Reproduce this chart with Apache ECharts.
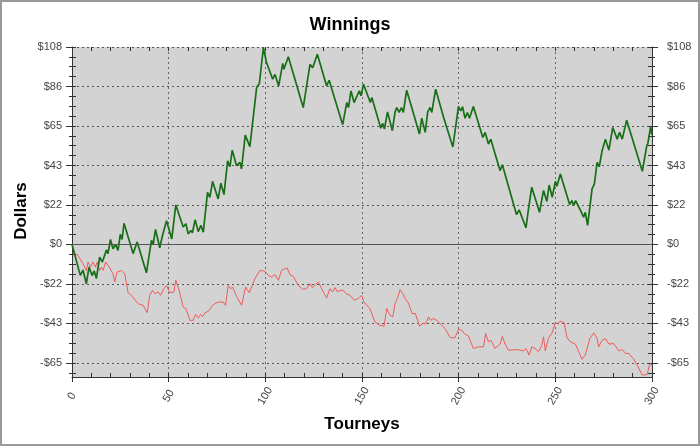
<!DOCTYPE html>
<html>
<head>
<meta charset="utf-8">
<script src="https://cdn.jsdelivr.net/npm/echarts@6/dist/echarts.min.js"></script>
<style>
  html, body { margin: 0; padding: 0; background: #fff; }
  #chart { width: 700px; height: 446px; }
</style>
</head>
<body>
<div id="chart"></div>
<script>
  // [tourney, dollars]
  const winnings = [[0,0],[4.3,-16.9],[5.7,-14],[7.4,-21.5],[8.8,-12.4],[10.4,-17],[11.5,-14.5],[12.6,-18.7],[14.3,-7],[15.7,-9.6],[17.8,-3],[18.6,-5],[19.9,2.7],[21.2,-2.4],[22.5,0],[23.8,-3.3],[25,5.5],[25.9,2.7],[26.9,11.6],[31.6,-5],[33.7,1.3],[38.5,-15.5],[41.1,2.2],[42,0],[43.2,8.2],[45.4,-1.8],[46.8,4.9],[47.7,4],[48.9,13],[51.6,3],[53.7,21.6],[57.5,9.5],[58.9,11.3],[60.1,5.8],[61.5,7.6],[62.3,6.4],[63.7,13.6],[65.3,7],[66.7,10.4],[67.9,6.7],[70.1,28.5],[71.3,25.8],[72.7,34.5],[75.6,24.9],[77,33.5],[78.6,27.3],[80.5,45.8],[81.7,42.5],[82.9,51.6],[85.1,43.1],[86.9,44.9],[87.7,41.3],[89.6,59.8],[92,53.5],[95.5,85.8],[96.9,88],[99,107.6],[100.6,99.5],[103.8,90.4],[105,93],[106.9,86.7],[109,99],[109.6,95.8],[111.9,102.7],[119.6,74.9],[123.1,98.5],[124.5,96.7],[126.9,104],[131.7,86.7],[133,89.8],[140,65.5],[142.1,77.6],[143,74.9],[144.3,84],[145.9,77.6],[148.6,84],[149.5,81.3],[150.8,87.6],[154.3,77.6],[155.1,80.4],[159.7,63.6],[160.7,66.2],[161.6,63.1],[163.2,72.5],[165.7,62.2],[167.1,72.5],[168,74.9],[169.2,72.2],[170.4,74.9],[171.4,72.2],[173.1,84.4],[177.5,68.5],[179.7,60.4],[180.9,69.1],[182.7,61.3],[184,72.5],[185.2,74.9],[186.1,72.2],[188.1,84.9],[192.1,69.8],[197,53.3],[199.9,75.5],[201,73],[202,75.3],[203.3,69],[204.5,72.2],[205.6,69],[207.6,75.5],[212.5,58.5],[213.7,61.3],[215.4,54.9],[216.6,57.6],[221.4,40.4],[222.6,43.6],[229.9,16.4],[231.3,18.9],[234.8,9.1],[236,18.5],[237.8,31.3],[241.8,17.6],[243.9,29.5],[245.6,23.5],[246.8,32.5],[248.4,25.8],[250,34.5],[250.8,31.8],[252.6,38.5],[257.4,21.8],[258.6,24],[259.5,21.3],[260.5,24],[263.7,17.1],[264.6,14.9],[265.5,17.6],[266.7,10.4],[269,30.4],[270.2,33.1],[271.6,44.9],[272.7,42.5],[274.2,51.3],[275.9,57.6],[277.7,51.6],[279.7,64],[282,57.6],[283.2,61.3],[284.6,57.6],[286.9,68],[295,40],[297.2,53.5],[297.9,55.5],[299.3,64.4],[300,60]];

  const redLine = [[0,0],[1.4,-5],[3.1,-6],[5.7,-10.5],[7.4,-14.2],[8.3,-9.6],[9.5,-12.4],[10.9,-9.6],[12.1,-12.4],[13,-9.6],[14.3,-14.2],[15.2,-12.4],[16.1,-14.2],[17.4,-9.6],[19,-12],[21.2,-16],[22.1,-20.5],[23.3,-15.1],[24.3,-16],[25.6,-14.2],[27.3,-16],[29,-26.4],[30.7,-27.8],[34.2,-32.4],[36.8,-33.3],[38.9,-37.3],[40.2,-27.8],[41.6,-25.1],[42.8,-26.9],[44.6,-26],[45.8,-27.8],[47.5,-24.2],[48.9,-22.4],[50.6,-26.4],[52.7,-26],[53.7,-19.6],[55.4,-25.1],[57.5,-34.2],[58.9,-35.1],[61,-41.5],[62.7,-41.5],[63.9,-38.2],[65.3,-40.2],[66.5,-38.2],[67.5,-39.6],[68.7,-37.5],[70.5,-36.5],[73.1,-32.9],[75.6,-31.5],[78.2,-31.5],[79.4,-33.3],[80.8,-22.4],[82,-24.2],[83.1,-23.3],[85.1,-28.4],[87.7,-33.3],[89.8,-23.3],[90.7,-24.2],[91.7,-26.4],[92.9,-23.3],[94.6,-18.7],[97.2,-14.2],[99.8,-14.7],[101.5,-16.9],[103.2,-17.8],[105,-16.5],[106.8,-19.6],[108.4,-14.2],[110.1,-13.3],[111.3,-12.9],[112.7,-16.5],[114.4,-17.3],[117,-22.4],[119.3,-24.5],[121.3,-24.2],[123.1,-21.5],[124.4,-23.6],[125.6,-22.4],[127.4,-20.5],[129.1,-24.2],[131.7,-29.3],[133.4,-24.2],[134.8,-26],[136.1,-23.6],[137.3,-26],[138.6,-25.1],[140.3,-25.1],[141.7,-26.9],[143.8,-27.8],[146,-30.5],[148.1,-29.6],[149.8,-27.8],[151,-31.5],[154.1,-35.1],[156.7,-42.4],[159.3,-44.2],[161.4,-44.7],[162.8,-35.1],[164.5,-38.7],[165.9,-39.6],[167.1,-32.4],[168.3,-29.6],[169.7,-24.7],[171.1,-26.9],[172.3,-29.6],[174,-32],[175.9,-37.8],[177.6,-37.8],[179.8,-44.7],[181.4,-43.3],[183.1,-43.3],[184.4,-39.6],[185.5,-41.5],[186.9,-40.5],[188.7,-41.5],[191.2,-44.2],[193,-46],[195.6,-51],[198.1,-51],[199.9,-46.5],[201.6,-46.9],[202.8,-48.7],[205,-50],[207.6,-56.9],[210.2,-56],[212.8,-56],[214,-48.7],[215.4,-53.3],[216.7,-52.4],[218.8,-56.9],[221.4,-54.5],[222.6,-50.2],[224,-54.5],[225.7,-57.8],[230,-57.5],[233.5,-58.2],[234.8,-56.9],[236.4,-60.5],[237.8,-56],[239.5,-56.9],[241.3,-58.7],[243,-55.1],[243.9,-50.5],[244.8,-58.2],[246.5,-51],[248.2,-48.7],[250,-42.9],[251.1,-43.3],[252.6,-42],[254.6,-42.9],[256,-51],[257.8,-53.3],[260.4,-54.5],[262.1,-58.7],[263.8,-62.9],[265.5,-60.5],[267.8,-51.5],[269.9,-48.4],[271.6,-51.5],[272.4,-56],[274.2,-52.4],[275.9,-51.5],[277.7,-54.5],[280.2,-54.2],[282.8,-58.2],[284.6,-57.5],[286.3,-59.6],[288,-59.6],[290.3,-62.4],[292.3,-66],[295,-71.5],[297.5,-71.1],[298.9,-65.1],[300,-66]];

  // y ticks are at steps of 108/5, labels rounded
  const yMajor = [-64.8, -43.2, -21.6, 0, 21.6, 43.2, 64.8, 86.4, 108];
  const yMinor = [];
  for (let i = -13; i <= 20; i++) yMinor.push(+(i * 5.4).toFixed(2));
  const yMin = -72.5, yMax = 108;

  const chart = echarts.init(document.getElementById('chart'));
  const font = 'Liberation Sans, Arial, sans-serif';
  const axisColor = '#333';

  function dollar(v) {
    const r = Math.round(Math.abs(v));
    return (v < 0 ? '-$' : '$') + r;
  }

  function yAxisBase(pos) {
    return {
      type: 'value', position: pos, min: yMin, max: yMax,
      axisLine: { show: false, onZero: false },
      axisTick: { show: false },
      axisLabel: { show: false },
      splitLine: { show: false }
    };
  }

  const yAxes = [];
  ['left', 'right'].forEach(function (pos) {
    const main = yAxisBase(pos);
    main.axisLine = { show: true, onZero: false, lineStyle: { color: axisColor, width: 1 } };
    main.axisTick = { show: true, customValues: yMajor, length: 6, lineStyle: { color: axisColor } };
    main.axisLabel = {
      show: true, customValues: yMajor, formatter: dollar,
      color: '#444', fontSize: 11, fontFamily: font, margin: pos === 'left' ? 10 : 15
    };
    if (pos === 'left') {
      main.splitLine = { show: true, lineStyle: { color: '#555', type: [2, 3], width: 1 } };
    }
    const minorIn = yAxisBase(pos);
    minorIn.axisTick = { show: true, inside: true, customValues: yMinor, length: 4, lineStyle: { color: axisColor } };
    const minorOut = yAxisBase(pos);
    minorOut.axisTick = { show: true, customValues: yMinor, length: 3, lineStyle: { color: axisColor } };
    yAxes.push(main, minorIn, minorOut);
  });

  const xAxes = [
    {
      type: 'value', position: 'bottom', min: 0, max: 300, interval: 50,
      name: 'Tourneys', nameLocation: 'middle', nameGap: 39,
      nameTextStyle: { fontSize: 17, fontWeight: 'bold', color: '#000', fontFamily: font },
      axisLine: { show: true, onZero: false, lineStyle: { color: axisColor } },
      axisTick: { show: true, inside: true, length: 4, lineStyle: { color: axisColor } },
      minorTick: { show: true, splitNumber: 5, length: 4, lineStyle: { color: axisColor } },
      axisLabel: {
        rotate: 60, align: 'center', verticalAlign: 'middle',
        color: '#444', fontSize: 11, fontFamily: font, margin: 19
      },
      splitLine: { show: true, lineStyle: { color: '#666', type: [2, 3], width: 1 } }
    },
    {
      type: 'value', position: 'bottom', min: 0, max: 300, interval: 50,
      axisLine: { show: false, onZero: false },
      axisTick: { show: true, length: 5, lineStyle: { color: axisColor } },
      axisLabel: { show: false }, splitLine: { show: false }
    },
    {
      type: 'value', position: 'top', min: 0, max: 300, interval: 50,
      axisLine: { show: false, onZero: false },
      axisTick: { show: true, inside: true, length: 4, lineStyle: { color: axisColor } },
      minorTick: { show: true, splitNumber: 5, length: 4, lineStyle: { color: axisColor } },
      axisLabel: { show: false }, splitLine: { show: false }
    }
  ];

  const option = {
    backgroundColor: '#fff',
    animation: false,
    title: {
      text: 'Winnings', left: 'center', top: 11,
      textStyle: { fontSize: 18, fontWeight: 'bold', color: '#000', fontFamily: font }
    },
    grid: {
      left: 72, right: 48, top: 47, bottom: 69,
      show: true, backgroundColor: '#d3d3d3', borderWidth: 0
    },
    graphic: [
      {
        type: 'rect', silent: true, z: 100,
        shape: { x: 1, y: 1, width: 698, height: 444 },
        style: { fill: null, stroke: '#9a9a9a', lineWidth: 2 }
      },
      {
        // y axis title
        type: 'text', x: 21, y: 211, rotation: Math.PI / 2, silent: true,
        style: {
          text: 'Dollars', fill: '#000', font: 'bold 17px ' + font,
          textAlign: 'center', textVerticalAlign: 'middle'
        }
      }
    ],
    xAxis: xAxes,
    yAxis: yAxes,
    series: [
      {
        name: 'red', type: 'line', data: redLine, showSymbol: false,
        lineStyle: { color: '#f05a5a', width: 1 }, z: 3,
        markLine: {
          silent: true, symbol: 'none', label: { show: false },
          lineStyle: { color: '#555', type: 'solid', width: 1 },
          data: [{ yAxis: 0 }]
        }
      },
      {
        name: 'winnings', type: 'line', data: winnings, showSymbol: false,
        lineStyle: { color: '#176f17', width: 1.7 }, z: 4
      }
    ]
  };
  chart.setOption(option);
</script>
</body>
</html>
